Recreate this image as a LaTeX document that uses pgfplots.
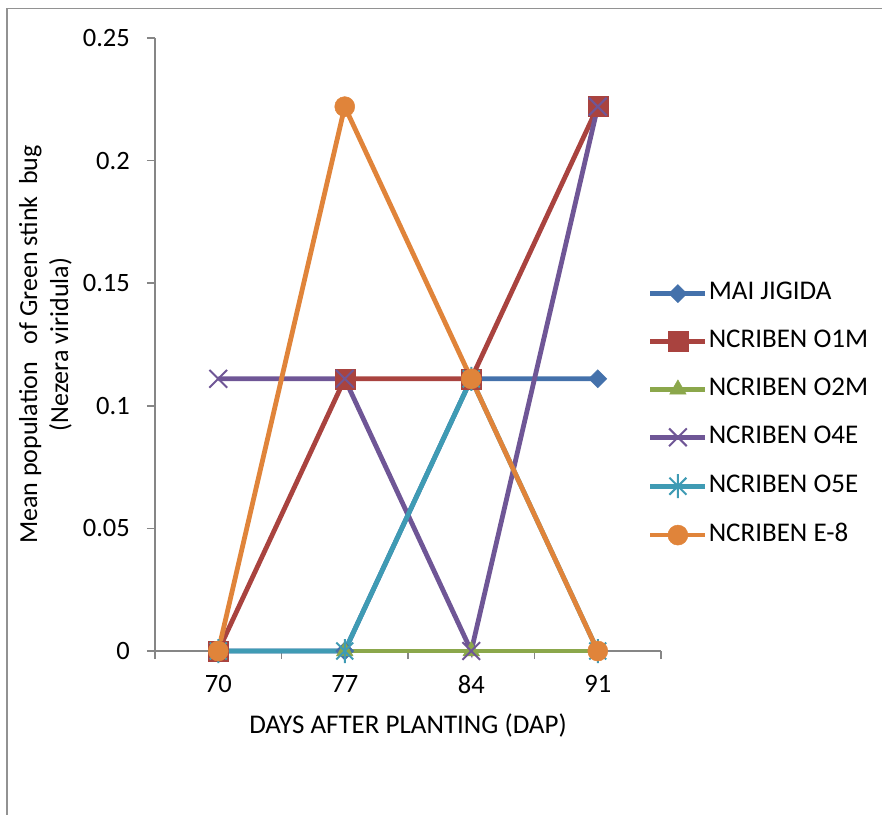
\documentclass[border=0pt]{standalone}
\usepackage{fontspec}
\setmainfont{Carlito}
\usepackage{pgfplots}
\pgfplotsset{compat=1.18}
\usepackage{pgfplotstable}

\definecolor{cBlue}{HTML}{4471AB}
\definecolor{cRed}{HTML}{A9433F}
\definecolor{cGreen}{HTML}{8BA74B}
\definecolor{cPurple}{HTML}{6F5696}
\definecolor{cTeal}{HTML}{3F9BB4}
\definecolor{cOrange}{HTML}{E0843A}
\definecolor{axisgray}{HTML}{868686}

% x cross with a vertical stroke (star marker)
\pgfdeclareplotmark{xstar}{%
  \pgfpathmoveto{\pgfqpoint{-.70710678\pgfplotmarksize}{-.70710678\pgfplotmarksize}}%
  \pgfpathlineto{\pgfqpoint{.70710678\pgfplotmarksize}{.70710678\pgfplotmarksize}}%
  \pgfpathmoveto{\pgfqpoint{-.70710678\pgfplotmarksize}{.70710678\pgfplotmarksize}}%
  \pgfpathlineto{\pgfqpoint{.70710678\pgfplotmarksize}{-.70710678\pgfplotmarksize}}%
  \pgfpathmoveto{\pgfqpoint{0pt}{-\pgfplotmarksize}}%
  \pgfpathlineto{\pgfqpoint{0pt}{\pgfplotmarksize}}%
  \pgfusepathqstroke}

% category index: 0 = 70, 1 = 77, 2 = 84, 3 = 91 DAP
\pgfplotstableread{
x  mai    o1m    o2m  o4e    o5e    e8
0  0      0      0    0.111  0      0
1  0      0.111  0    0.111  0      0.222
2  0.111  0.111  0    0      0.111  0.111
3  0.111  0.222  0    0.222  0      0
}\datatable

\begin{document}
\begin{tikzpicture}[x=1pt,y=1pt]
\useasboundingbox (0,0) rectangle (882,814);
\draw[color=axisgray!90, line width=1.6pt] (7,-2) -- (7,805.5) -- (884,805.5);
\begin{axis}[
  at={(155pt,163pt)}, anchor=south west,
  scale only axis, width=506pt, height=613pt,
  xmin=-0.5, xmax=3.5, ymin=0, ymax=0.25,
  axis x line=bottom, axis y line=left,
  axis line style={-, color=axisgray, line width=1.6pt},
  xtick={0,1,2,3}, xticklabels={70,77,84,91},
  major x tick style={draw=none},
  minor xtick={-0.5,0.5,1.5,2.5,3.5},
  minor x tick style={color=axisgray, line width=1.6pt},
  minor tick length=8pt,
  ytick={0,0.05,0.1,0.15,0.2,0.25},
  yticklabels={0,0.05,0.1,0.15,0.2,0.25},
  major y tick style={color=axisgray, line width=1.6pt},
  major tick length=8pt,
  tick align=outside,
  font=\fontsize{27}{31}\selectfont,
  tick label style={font=\fontsize{26.5}{31}\selectfont},
  /pgf/number format/assume math mode=true,
  yticklabel style={anchor=east, inner sep=0pt, xshift=-17pt},
  xticklabel style={anchor=north, inner sep=0pt, yshift=-16pt},
  xlabel={DAYS AFTER PLANTING (DAP)},
  xlabel style={at={(axis description cs:0.5,-0.121)}, anchor=center, inner sep=0pt},
  ylabel={Mean population \ \ of Green stink \ bug\\(Nezera viridula)},
  ylabel style={font=\fontsize{26}{31}\selectfont, at={(axis description cs:-0.2165,0.5)}, anchor=center, rotate=0, align=center, inner sep=0pt},
  legend cell align=left,
  legend style={at={(axis description cs:0.9743,0.601)}, anchor=north west,
    draw=none, fill=none, inner sep=0pt, outer sep=0pt,
    row sep=25.9pt,
    nodes={inner xsep=1pt, inner ysep=0pt, text height=17pt, text depth=5pt, anchor=west}},
  legend image code/.code={%
    \draw[#1, mark repeat=2, mark phase=2] plot coordinates {(0pt,0pt) (27.5pt,0pt) (55pt,0pt)};},
  every axis plot/.append style={line width=4.8pt},
  clip=false,
]
\addplot[color=cBlue, mark=square*, mark size=6.4pt, mark options={rotate=45, solid, line width=0.5pt}]
  table[x=x, y=mai] {\datatable};
\addlegendentry{MAI JIGIDA}
\addplot[color=cRed, mark=square*, mark size=10pt, mark options={solid, line width=0.5pt}]
  table[x=x, y=o1m] {\datatable};
\addlegendentry{NCRIBEN O1M}
\addplot[color=cGreen, mark=triangle*, mark size=9.5pt, mark options={solid, line width=0.5pt}]
  table[x=x, y=o2m] {\datatable};
\addlegendentry{NCRIBEN O2M}
\addplot[color=cPurple, mark=x, mark size=12.5pt, mark options={solid, line width=2pt}]
  table[x=x, y=o4e] {\datatable};
\addlegendentry{NCRIBEN O4E}
\addplot[color=cTeal, mark=xstar, mark size=12pt, mark options={solid, line width=2pt}]
  table[x=x, y=o5e] {\datatable};
\addlegendentry{NCRIBEN O5E}
\addplot[color=cOrange, mark=*, mark size=10pt, mark options={solid, line width=0.5pt}]
  table[x=x, y=e8] {\datatable};
\addlegendentry{NCRIBEN E-8}
\end{axis}
\end{tikzpicture}
\end{document}
